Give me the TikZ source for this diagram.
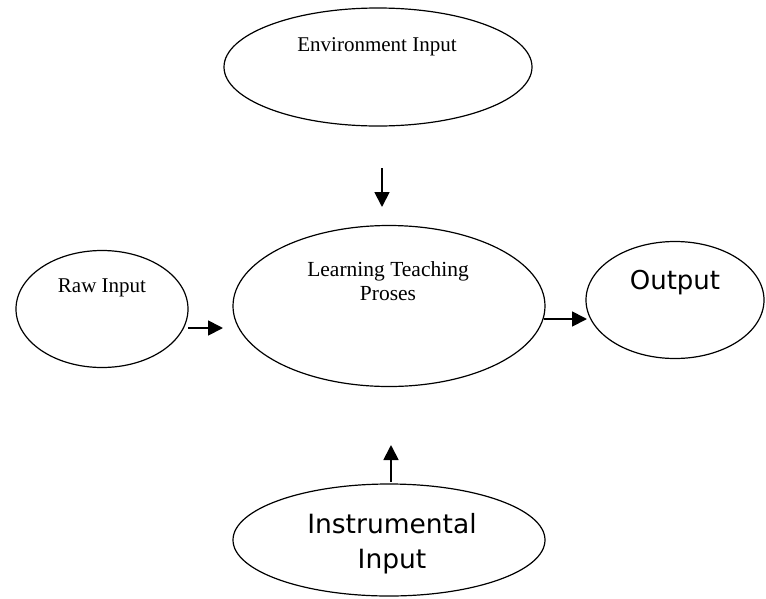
\documentclass[tikz,border=0pt]{standalone}
\usepackage{fontspec}
\setmainfont{Liberation Serif}
\newfontfamily\dvs{DejaVu Sans}
\usetikzlibrary{shapes.geometric,arrows.meta}
\begin{document}
\begin{tikzpicture}[x=1pt,y=-1pt,
  ell/.style={ellipse,draw,line width=1.2pt,inner sep=0pt},
  lbl/.style={inner sep=0pt,align=center},
  arr/.style={line width=1.8pt,-{Triangle[length=15pt,width=15pt]}}]
\useasboundingbox (0,0) rectangle (766,598);
% ellipses
\node[ell,minimum width=308pt,minimum height=118pt] (env) at (378,67) {};
\node[ell,minimum width=172pt,minimum height=117pt] (raw) at (102,309) {};
\node[ell,minimum width=312pt,minimum height=161pt] (ltp) at (389,306) {};
\node[ell,minimum width=178pt,minimum height=117pt] (out) at (675,300) {};
\node[ell,minimum width=312pt,minimum height=112pt] (ins) at (389,540) {};
% texts
\node[lbl,font=\fontsize{21}{24}\selectfont] (envt) at (377,47) {Environment Input};
\node[lbl,font=\fontsize{21}{24}\selectfont] (rawt) at (102,288) {Raw Input};
\node[lbl,font=\fontsize{21.5}{23.5}\selectfont] (ltpt) at (388,281) {Learning Teaching\\Proses};
\node[lbl,font=\dvs\fontsize{26}{30}\selectfont] (outt) at (675,283) {Output};
\node[lbl,font=\dvs\fontsize{26.5}{35}\selectfont] (inst) at (392,544) {Instrumental\\Input};
% arrow ends
\coordinate (a1s) at (382,168); \coordinate (a1e) at (382,207);
\coordinate (a2s) at (188,328); \coordinate (a2e) at (223,328);
\coordinate (a3s) at (544,319); \coordinate (a3e) at (587,319);
\coordinate (a4s) at (391,482); \coordinate (a4e) at (391,445);
\draw[arr] (a1s) -- (a1e);
\draw[arr] (a2s) -- (a2e);
\draw[arr] (a3s) -- (a3e);
\draw[arr] (a4s) -- (a4e);
\end{tikzpicture}
\end{document}
